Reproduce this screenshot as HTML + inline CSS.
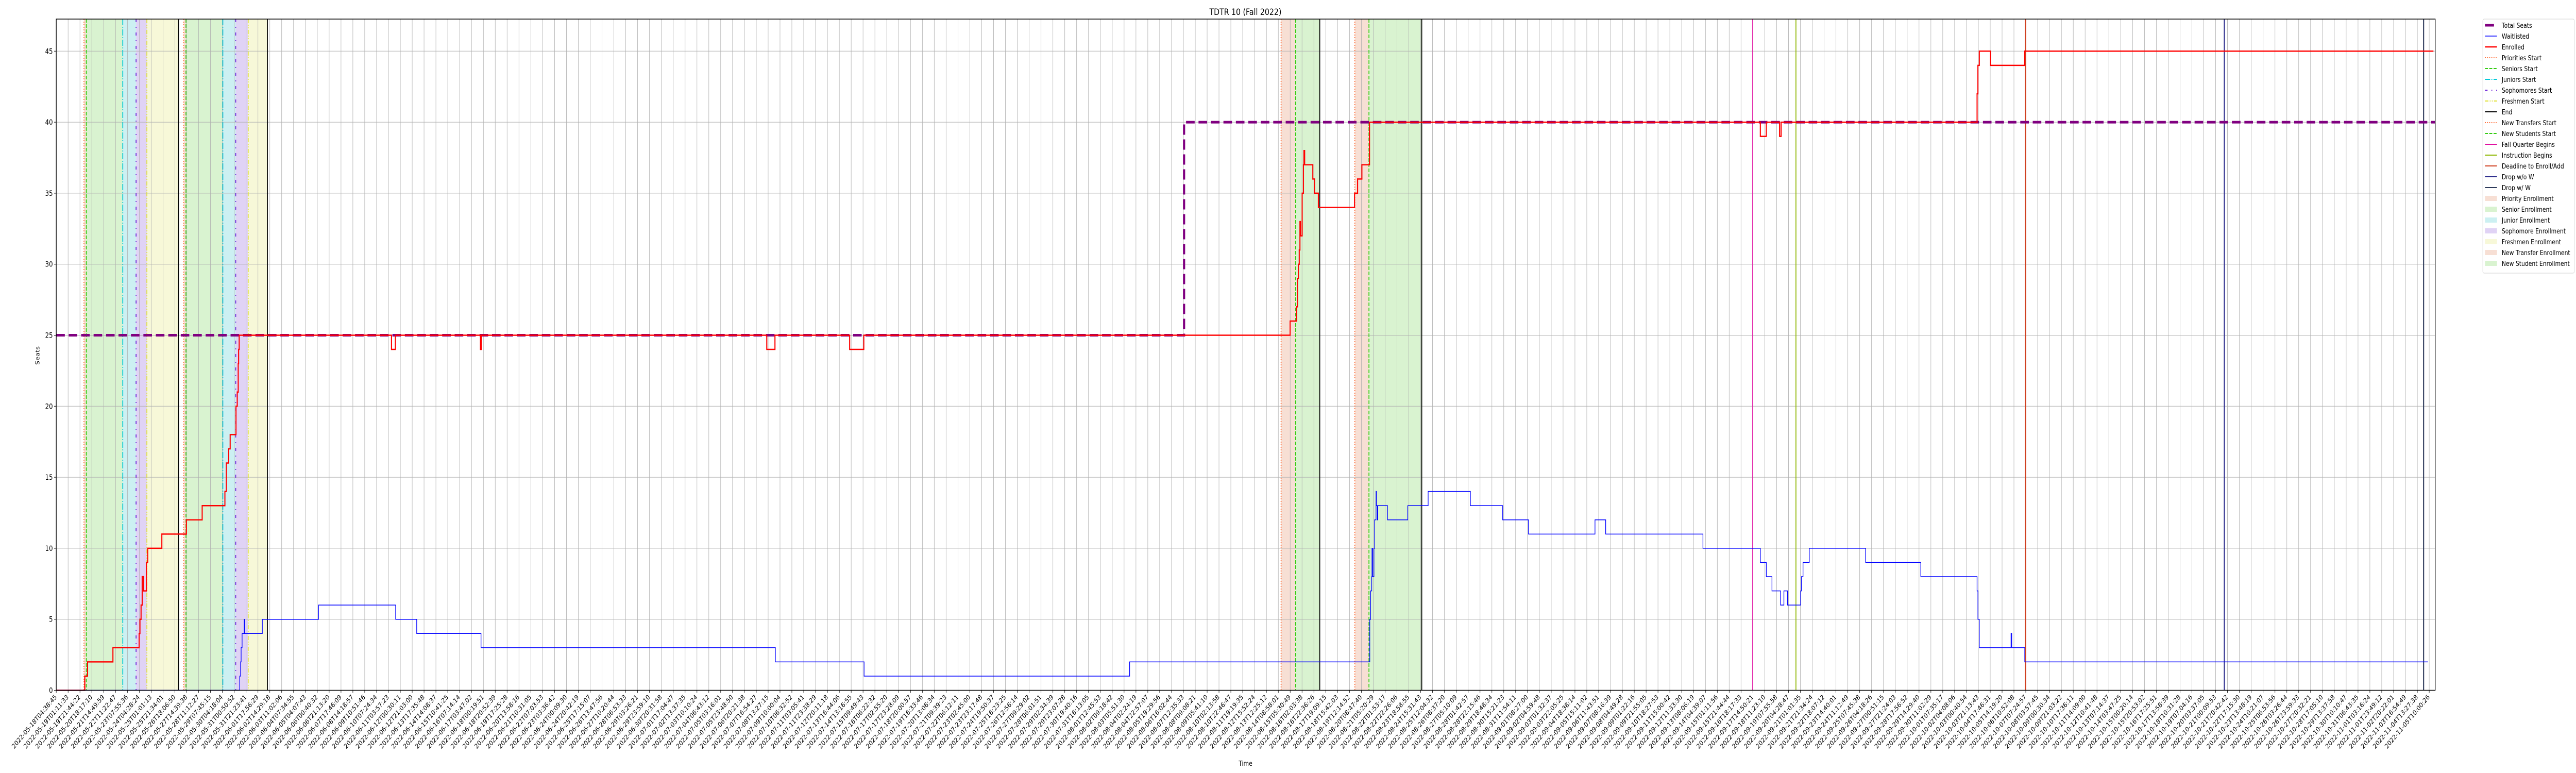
<!DOCTYPE html>
<html><head><meta charset="utf-8"><title>TDTR 10 (Fall 2022)</title>
<style>
html,body{margin:0;padding:0;background:#fff;width:100%;height:100%;overflow:hidden;}
svg{display:block;position:absolute;left:0;top:0;width:100vw;height:100vh;font-family:"DejaVu Sans","Liberation Sans",sans-serif;}
</style></head>
<body>
<svg id="chart" viewBox="0 0 6000 1500" preserveAspectRatio="none" xmlns="http://www.w3.org/2000/svg">
  <rect width="6000" height="1500" fill="#fff"/>
  <g id="spans"></g>
  <g id="grid"></g>
  <g id="events"></g>
  <g id="series"></g>
  <rect x="131" y="37" width="5541" height="1302.5" fill="none" stroke="#000" stroke-width="1.5"/>
  <g id="xaxis"></g>
  <g id="yaxis"></g>
  <text x="2901" y="29" font-size="17" text-anchor="middle">TDTR 10 (Fall 2022)</text>
  <text x="2901" y="1486" font-size="13" text-anchor="middle">Time</text>
  <text x="0" y="0" font-size="13" text-anchor="middle" transform="translate(92,690) rotate(-90)">Seats</text>
  <g id="legend"></g>
</svg>
<script>
// ---- data (x values = days since 2022-05-18T04:38:45) ----
const enrolledDays = [0,2.06,2.26,4.09,5.98,6.04,6.12,6.20,6.29,6.51,6.60,7.62,9.39,10.53,12.17,12.27,12.44,12.55,12.97,13.06,13.13,13.16,13.20,24.19,24.47,30.61,30.67,51.27,51.86,57.25,58.27,89.03,89.50,89.56,89.63,89.69,89.74,89.78,89.90,89.99,90.03,90.08,90.67,90.79,91.07,93.68,93.90,94.21,94.76,122.96,123.39,124.35,124.46,138.60,138.66,138.76,139.57,142.04,171.53];
const enrolledValues = [0,1,2,3,4,5,6,8,7,9,10,11,12,13,14,16,17,18,20,21,23,24,25,24,25,24,25,24,25,24,25,26,27,29,30,31,33,32,35,37,38,37,36,35,34,35,36,37,40,39,40,39,40,42,44,45,44,45,45];
const waitDays = [0,13.24,13.30,13.34,13.41,13.56,13.59,14.87,18.93,24.49,26.01,30.65,51.89,58.29,77.45,94.78,94.84,94.92,94.94,94.98,95.08,95.13,95.23,95.26,95.33,95.36,96.06,97.52,98.99,102.04,104.37,106.23,111.03,111.80,118.82,122.96,123.39,123.80,124.42,124.66,124.92,125.87,125.93,126.04,126.49,130.56,134.54,138.60,138.66,138.76,141.05,141.10,142.04,171.13];
const waitValues = [0,1,2,3,4,5,4,5,6,5,4,3,2,1,2,5,7,8,10,8,10,12,14,13,12,13,12,13,14,13,12,11,12,11,10,9,8,7,6,7,6,7,8,9,10,9,8,7,5,3,4,3,2,2];
const seatDays = [0,81.38,171.66];
const seatValues = [25,40,40];

const prioritiesStart = [2.00,9.20];
const seniorsStart = [2.17,9.36];
const juniorsStart = [4.80,12.02];
const sophomoresStart = [5.76,12.95];
const freshmenStart = [6.54,13.85];
const endDays = [8.82,15.24,91.17,98.53];
const newTransfersStart = [88.38,93.70];
const newStudentsStart = [89.43,94.72];
const newStudentsEnd = [91.17,98.53];
const fallQuarterBegins = [122.41];
const instructionBegins = [125.53];
const deadlineEnroll = [142.10];
const dropNoW = [156.44];
const dropW = [170.82];

const yTicks = [0,5,10,15,20,25,30,35,40,45];
const xTickStart = "2022-05-18T04:38:45";
const xTickCount = 201;
const xTickSpanDays = 171.2234;

// ---- scales ----
const X0 = 131, X1 = 5672, PXDAY = 32.28;
const Y0 = 1339.5, PXUNIT = 27.56, YTOP = 37;
const xs = d => X0 + d * PXDAY;
const ys = v => Y0 - v * PXUNIT;
const NS = "http://www.w3.org/2000/svg";
function mk(tag, attrs, parent) {
  const e = document.createElementNS(NS, tag);
  for (const k in attrs) e.setAttribute(k, attrs[k]);
  if (parent) parent.appendChild(e);
  return e;
}
const gSpans = document.getElementById('spans');
const gGrid = document.getElementById('grid');
const gEv = document.getElementById('events');
const gSer = document.getElementById('series');
const gX = document.getElementById('xaxis');
const gY = document.getElementById('yaxis');
const gL = document.getElementById('legend');

// ---- spans ----
function span(a, b, color, name) {
  const r = mk('rect', {x: xs(a), y: YTOP, width: xs(b) - xs(a), height: Y0 - YTOP, fill: color}, gSpans);
  
  
}
const C = {prio:'#f7dfd4', sen:'#d9f3d0', jun:'#ccf0f2', soph:'#e0d3f5', fresh:'#f7f8d8'};
for (let i = 0; i < 2; i++) {
  span(prioritiesStart[i], seniorsStart[i], C.prio, 'priority-enrollment-span');
  span(seniorsStart[i], juniorsStart[i], C.sen, 'senior-enrollment-span');
  span(juniorsStart[i], sophomoresStart[i], C.jun, 'junior-enrollment-span');
  span(sophomoresStart[i], freshmenStart[i], C.soph, 'sophomore-enrollment-span');
  span(freshmenStart[i], endDays[i], C.fresh, 'freshmen-enrollment-span');
}
for (let i = 0; i < 2; i++) {
  span(newTransfersStart[i], newStudentsStart[i], C.prio, 'new-transfer-enrollment-span');
  span(newStudentsStart[i], newStudentsEnd[i], C.sen, 'new-student-enrollment-span');
}

// ---- grid & axes ----
function pad(n){return String(n).padStart(2,'0');}
const t0 = Date.parse(xTickStart + "Z");
for (let i = 0; i < xTickCount; i++) {
  const d = i * xTickSpanDays / (xTickCount - 1);
  const x = xs(d);
  const gl = mk('line', {x1:x, x2:x, y1:YTOP, y2:Y0, stroke:'#b0b0b0', 'stroke-width':1}, gGrid);
  
  
  const tk = mk('line', {x1:x, x2:x, y1:Y0, y2:Y0+5, stroke:'#000', 'stroke-width':1}, gX);
  
  
  const dt = new Date(t0 + d * 86400000);
  const lab = dt.getUTCFullYear()+'-'+pad(dt.getUTCMonth()+1)+'-'+pad(dt.getUTCDate())+'T'+pad(dt.getUTCHours())+':'+pad(dt.getUTCMinutes())+':'+pad(dt.getUTCSeconds());
  const t = mk('text', {x:0, y:0, 'font-size':13, 'text-anchor':'end', transform:'translate('+(x+2)+','+(Y0+14)+') rotate(-45)'}, gX);
  t.textContent = lab;
  
  
}
yTicks.forEach(v => {
  const y = ys(v);
  const gl = mk('line', {x1:X0, x2:X1, y1:y, y2:y, stroke:'#b0b0b0', 'stroke-width':1}, gGrid);
  
  
  const tk = mk('line', {x1:X0-5, x2:X0, y1:y, y2:y, stroke:'#000', 'stroke-width':1}, gY);
  
  
  const t = mk('text', {x:X0-8, y:y+5, 'font-size':14, 'text-anchor':'end'}, gY);
  t.textContent = v;
  
  
});

// ---- event lines ----
function vline(d, color, dash, w, name) {
  const l = mk('line', {x1:xs(d), x2:xs(d), y1:YTOP, y2:Y0, stroke:color, 'stroke-width':w}, gEv);
  if (dash) l.setAttribute('stroke-dasharray', dash);
  
  
}
const ST = {
  prio:['#ff6a33','2,3'], sen:['#33cc11','7,3'], jun:['#00c8d8','12,3,2,3'],
  soph:['#6a1ed8','6,9,2,9'], fresh:['#e0e030','8,3,2,3,2,3'], end:['#000',null],
  fall:['#e010a0',null], instr:['#8db600',null], dead:['#d04020',null], dnw:['#2e2e8e',null], dw:['#2d3a5a',null]
};
prioritiesStart.forEach(d => vline(d, ST.prio[0], ST.prio[1], 2, 'priorities-start-line'));
seniorsStart.forEach(d => vline(d, ST.sen[0], ST.sen[1], 2, 'seniors-start-line'));
juniorsStart.forEach(d => vline(d, ST.jun[0], ST.jun[1], 2, 'juniors-start-line'));
sophomoresStart.forEach(d => vline(d, ST.soph[0], ST.soph[1], 2, 'sophomores-start-line'));
freshmenStart.forEach(d => vline(d, ST.fresh[0], ST.fresh[1], 2, 'freshmen-start-line'));
newTransfersStart.forEach(d => vline(d, ST.prio[0], ST.prio[1], 2, 'new-transfers-start-line'));
newStudentsStart.forEach(d => vline(d, ST.sen[0], ST.sen[1], 2, 'new-students-start-line'));
endDays.forEach(d => vline(d, ST.end[0], null, 2, 'end-line'));
fallQuarterBegins.forEach(d => vline(d, ST.fall[0], null, 2, 'fall-quarter-begins-line'));
instructionBegins.forEach(d => vline(d, ST.instr[0], null, 2, 'instruction-begins-line'));
deadlineEnroll.forEach(d => vline(d, ST.dead[0], null, 3, 'deadline-enroll-line'));
dropNoW.forEach(d => vline(d, ST.dnw[0], null, 2.5, 'drop-without-w-line'));
dropW.forEach(d => vline(d, ST.dw[0], null, 2.5, 'drop-with-w-line'));

// ---- series (step-post) ----
function stepPath(days, vals) {
  let p = 'M' + xs(days[0]) + ',' + ys(vals[0]);
  for (let i = 1; i < days.length; i++) {
    p += 'H' + xs(days[i]) + 'V' + ys(vals[i]);
  }
  return p;
}
const seats = mk('path', {d:stepPath(seatDays, seatValues), fill:'none', stroke:'#800080', 'stroke-width':5, 'stroke-dasharray':'20,9'}, gSer);


const enr = mk('path', {d:stepPath(enrolledDays, enrolledValues), fill:'none', stroke:'#ff0000', 'stroke-width':2.5}, gSer);


const wl = mk('path', {d:stepPath(waitDays, waitValues), fill:'none', stroke:'#0000ff', 'stroke-width':1.5}, gSer);



// ---- legend ----
const legendItems = [
  ['Total Seats','line','#800080',null,5],
  ['Waitlisted','line','#0000ff',null,1.5],
  ['Enrolled','line','#ff0000',null,2.5],
  ['Priorities Start','line',ST.prio[0],ST.prio[1],2],
  ['Seniors Start','line',ST.sen[0],ST.sen[1],2],
  ['Juniors Start','line',ST.jun[0],'12,3,2,3',2],
  ['Sophomores Start','line',ST.soph[0],'6,9,2,9',2],
  ['Freshmen Start','line',ST.fresh[0],ST.fresh[1],2],
  ['End','line','#000',null,2],
  ['New Transfers Start','line',ST.prio[0],ST.prio[1],2],
  ['New Students Start','line',ST.sen[0],ST.sen[1],2],
  ['Fall Quarter Begins','line',ST.fall[0],null,2],
  ['Instruction Begins','line',ST.instr[0],null,2],
  ['Deadline to Enroll/Add','line',ST.dead[0],null,2],
  ['Drop w/o W','line',ST.dnw[0],null,2],
  ['Drop w/ W','line',ST.dw[0],null,2],
  ['Priority Enrollment','patch',C.prio],
  ['Senior Enrollment','patch',C.sen],
  ['Junior Enrollment','patch',C.jun],
  ['Sophomore Enrollment','patch',C.soph],
  ['Freshmen Enrollment','patch',C.fresh],
  ['New Transfer Enrollment','patch',C.prio],
  ['New Student Enrollment','patch',C.sen]
];
const LX = 5783, LY = 37, ROW = 21;
const box = mk('rect', {x:LX, y:LY, width:213, height:legendItems.length*ROW+10, fill:'#fff', stroke:'#d0d0d0', 'stroke-width':1, rx:3}, gL);


legendItems.forEach((it, i) => {
  const cy = LY + 12 + i * ROW;
  const g = mk('g', {}, gL);
  
  
  if (it[1] === 'line') {
    const l = mk('line', {x1:LX+5, x2:LX+33, y1:cy, y2:cy, stroke:it[2], 'stroke-width':it[4]}, g);
    if (i === 0) { l.setAttribute('x2', LX+26); }
    if (it[3]) l.setAttribute('stroke-dasharray', it[3]);
  } else {
    mk('rect', {x:LX+5, y:cy-5, width:28, height:10, fill:it[2]}, g);
  }
  const t = mk('text', {x:LX+44, y:cy+5, 'font-size':13}, g);
  t.textContent = it[0];
});
</script>
</body></html>
